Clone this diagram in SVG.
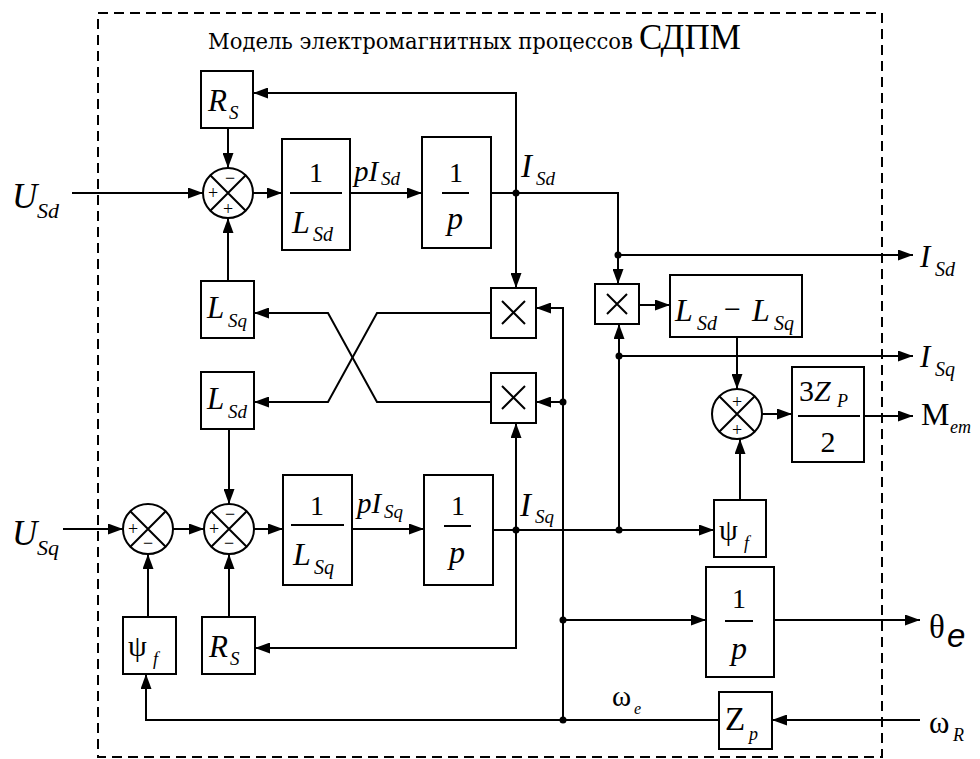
<svg xmlns="http://www.w3.org/2000/svg" width="980" height="759" viewBox="0 0 980 759">
<defs>
<marker id="a" markerUnits="userSpaceOnUse" markerWidth="15" markerHeight="11" refX="15" refY="5.5" orient="auto">
<path d="M0,0 L15,5.5 L0,11 z" fill="#000"/>
</marker>
<style>
.b{fill:#fff;stroke:#000;stroke-width:2}
.c{fill:none;stroke:#000;stroke-width:2}
.w{fill:none;stroke:#000;stroke-width:2;marker-end:url(#a)}
.i{font-style:italic}
.m{text-anchor:middle}
</style>
</defs>
<rect width="980" height="759" fill="#fff"/>
<rect x="98" y="13" width="784" height="744" fill="none" stroke="#000" stroke-width="2" stroke-dasharray="10,6"/>
<g font-family="Liberation Serif, Times New Roman, serif" fill="#000">
<text x="208" y="49" font-family="DejaVu Serif, Liberation Serif, serif" font-size="22" textLength="425" lengthAdjust="spacingAndGlyphs">Модель электромагнитных процессов</text>
<text x="639" y="49" font-size="35">СДПМ</text>
</g>

<g id="connectors">
<path class="w" d="M72,193 H203"/>
<path class="w" d="M228,128 V168"/>
<path class="w" d="M253,193 H282"/>
<path class="w" d="M350,193 H422"/>
<path class="w" d="M491,193 H618 V284"/>
<path class="w" d="M618,255 H913"/>
<path class="w" d="M516,193 V93 H253"/>
<path class="w" d="M516,193 V288"/>
<path class="w" d="M228,281 V218"/>
<path class="w" d="M491,313 H377 L328,402 H254"/>
<path class="w" d="M491,402 H377 L328,313 H254"/>
<path class="w" d="M563,720 V308 H536"/>
<path class="w" d="M563,402 H536"/>
<path class="w" d="M563,620 H706"/>
<path class="w" d="M920,720 H772"/>
<path class="w" d="M719,720 H146 V674"/>
<path class="w" d="M774,620 H920"/>
<path class="w" d="M63,529 H123"/>
<path class="w" d="M173,529 H204"/>
<path class="w" d="M254,529 H283"/>
<path class="w" d="M352,529 H424"/>
<path class="w" d="M493,530 H714"/>
<path class="w" d="M516,530 V648 H255"/>
<path class="w" d="M516,530 V423"/>
<path class="w" d="M619,530 V324"/>
<path class="w" d="M619,356 H913"/>
<path class="w" d="M639,305 H670"/>
<path class="w" d="M737,337 V389"/>
<path class="w" d="M740,500 V439"/>
<path class="w" d="M762,414 H792"/>
<path class="w" d="M864,416 H913"/>
<path class="w" d="M229,617 V554"/>
<path class="w" d="M148,617 V554"/>
<path class="w" d="M229,429 V504"/>
<g fill="#000">
<circle cx="516" cy="193" r="3.5"/>
<circle cx="618" cy="255" r="3.5"/>
<circle cx="563" cy="402" r="3.5"/>
<circle cx="563" cy="620" r="3.5"/>
<circle cx="563" cy="720" r="3.5"/>
<circle cx="516" cy="530" r="3.5"/>
<circle cx="619" cy="530" r="3.5"/>
<circle cx="619" cy="356" r="3.5"/>
</g>
</g>

<g font-family="Liberation Serif, Times New Roman, serif" fill="#000">
<g id="sum1" font-size="18" text-anchor="middle">
<circle class="b" cx="228" cy="193" r="25"/>
<path class="c" d="M210.3,175.3 L245.7,210.7 M245.7,175.3 L210.3,210.7"/>
<text x="230" y="184">−</text>
<text x="213" y="199">+</text>
<text x="228" y="215">+</text>
</g>
<g id="sum2" font-size="18" text-anchor="middle">
<circle class="b" cx="148" cy="529" r="25"/>
<path class="c" d="M130.3,511.3 L165.7,546.7 M165.7,511.3 L130.3,546.7"/>
<text x="133" y="535">+</text>
<text x="148" y="549">−</text>
</g>
<g id="sum3" font-size="18" text-anchor="middle">
<circle class="b" cx="229" cy="529" r="25"/>
<path class="c" d="M211.3,511.3 L246.7,546.7 M246.7,511.3 L211.3,546.7"/>
<text x="230" y="520">−</text>
<text x="214" y="535">+</text>
<text x="229" y="549">−</text>
</g>
<g id="sum4" font-size="18" text-anchor="middle">
<circle class="b" cx="737" cy="414" r="25"/>
<path class="c" d="M719.3,396.3 L754.7,431.7 M754.7,396.3 L719.3,431.7"/>
<text x="737" y="408">+</text>
<text x="737" y="436">+</text>
</g>

<g id="rs1">
<rect class="b" x="201" y="71" width="52" height="57"/>
<text class="i" x="208" y="111" font-size="31">R</text>
<text class="i" x="229" y="119" font-size="19">S</text>
</g>
<g id="lsd_inv">
<rect class="b" x="282" y="139" width="68" height="111"/>
<text class="m" x="316" y="182" font-size="28">1</text>
<path class="c" d="M290,193 H342"/>
<text class="i" x="292" y="233" font-size="32">L</text>
<text class="i" x="313" y="241" font-size="20">Sd</text>
</g>
<text class="i" x="354" y="181" font-size="29">pI</text>
<text class="i" x="381" y="185" font-size="19">Sd</text>
<g id="int1">
<rect class="b" x="422" y="137" width="69" height="111"/>
<text class="m" x="456" y="182" font-size="28">1</text>
<path class="c" d="M442,193 H469"/>
<text class="i m" x="455" y="229" font-size="32">p</text>
</g>
<text class="i" x="521" y="177" font-size="33">I</text>
<text class="i" x="536" y="185" font-size="19">Sd</text>

<g id="lsq">
<rect class="b" x="201" y="281" width="53" height="57"/>
<text class="i" x="207" y="318" font-size="31">L</text>
<text class="i" x="228" y="327" font-size="19">Sq</text>
</g>
<g id="lsd">
<rect class="b" x="201" y="372" width="53" height="57"/>
<text class="i" x="207" y="409" font-size="31">L</text>
<text class="i" x="228" y="418" font-size="19">Sd</text>
</g>
<g id="mul1">
<rect class="b" x="491" y="288" width="45" height="50"/>
<path class="c" d="M502,301 L525,324 M525,301 L502,324"/>
</g>
<g id="mul2">
<rect class="b" x="491" y="373" width="45" height="50"/>
<path class="c" d="M502,386 L525,409 M525,386 L502,409"/>
</g>
<g id="mul3">
<rect class="b" x="595" y="284" width="44" height="40"/>
<path class="c" d="M607,294 L627,314 M627,294 L607,314"/>
</g>
<g id="ldiff">
<rect class="b" x="670" y="275" width="132" height="62"/>
<text class="i" x="675" y="321" font-size="32">L</text>
<text class="i" x="697" y="330" font-size="20">Sd</text>
<text x="724" y="319" font-size="30">−</text>
<text class="i" x="752" y="321" font-size="32">L</text>
<text class="i" x="774" y="330" font-size="20">Sq</text>
</g>
<g id="torque">
<rect class="b" x="792" y="367" width="72" height="95"/>
<text x="799" y="401" font-size="30">3<tspan font-style="italic">Z</tspan></text>
<text class="i" x="837" y="407" font-size="18">P</text>
<path class="c" d="M798,416 H860"/>
<text class="m" x="828" y="452" font-size="30">2</text>
</g>

<text class="i" x="12" y="208" font-size="35">U</text>
<text class="i" x="37" y="218" font-size="22">Sd</text>
<text class="i" x="12" y="545" font-size="35">U</text>
<text class="i" x="37" y="555" font-size="22">Sq</text>

<text class="i" x="920" y="267" font-size="31">I</text>
<text class="i" x="935" y="276" font-size="20">Sd</text>
<text class="i" x="920" y="367" font-size="31">I</text>
<text class="i" x="935" y="376" font-size="20">Sq</text>
<text x="921" y="425" font-size="32">M</text>
<text class="i" x="950" y="433" font-size="18">em</text>
<text x="929" y="638" font-size="33">θ</text>
<text font-family="Liberation Sans, Arial, sans-serif" font-style="italic" x="947" y="647" font-size="33">e</text>
<text x="929" y="733" font-size="31">ω</text>
<text class="i" x="953" y="741" font-size="18">R</text>

<g id="lsqinv">
<rect class="b" x="283" y="475" width="69" height="110"/>
<text class="m" x="317" y="515" font-size="28">1</text>
<path class="c" d="M291,525 H344"/>
<text class="i" x="293" y="565" font-size="32">L</text>
<text class="i" x="314" y="574" font-size="20">Sq</text>
</g>
<text class="i" x="357" y="513" font-size="29">pI</text>
<text class="i" x="384" y="518" font-size="19">Sq</text>
<g id="int2">
<rect class="b" x="424" y="475" width="69" height="110"/>
<text class="m" x="458" y="515" font-size="28">1</text>
<path class="c" d="M444,526 H471"/>
<text class="i m" x="457" y="563" font-size="32">p</text>
</g>
<text class="i" x="520" y="516" font-size="33">I</text>
<text class="i" x="535" y="523" font-size="19">Sq</text>

<g id="psif2">
<rect class="b" x="714" y="500" width="52" height="57"/>
<text x="719" y="540" font-size="30">ψ</text>
<text class="i" x="744" y="549" font-size="18">f</text>
</g>
<g id="int3">
<rect class="b" x="706" y="567" width="68" height="110"/>
<text class="m" x="739" y="608" font-size="28">1</text>
<path class="c" d="M725,621 H753"/>
<text class="i m" x="739" y="659" font-size="32">p</text>
</g>
<g id="zp">
<rect class="b" x="719" y="692" width="53" height="57"/>
<text x="725" y="730" font-size="33">Z</text>
<text class="i" x="749" y="740" font-size="18">p</text>
</g>
<text x="612" y="706" font-size="29">ω</text>
<text class="i" x="634" y="714" font-size="16">e</text>

<g id="psif1">
<rect class="b" x="123" y="617" width="53" height="57"/>
<text x="128" y="656" font-size="30">ψ</text>
<text class="i" x="153" y="665" font-size="18">f</text>
</g>
<g id="rs2">
<rect class="b" x="202" y="617" width="53" height="57"/>
<text class="i" x="209" y="657" font-size="31">R</text>
<text class="i" x="230" y="665" font-size="19">S</text>
</g>
</g>
</svg>
